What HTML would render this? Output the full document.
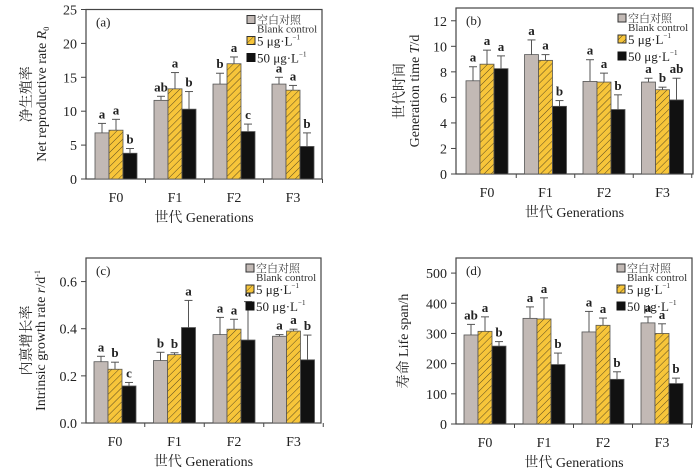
<!DOCTYPE html>
<html><head><meta charset="utf-8"><style>
body{margin:0;background:#fff}
svg{display:block;font-family:"Liberation Serif","Noto Serif CJK SC",serif}
</style></head><body>
<svg id="fig" width="700" height="468" viewBox="0 0 700 468" xmlns="http://www.w3.org/2000/svg">
<defs>
<pattern id="hatch" patternUnits="userSpaceOnUse" width="5" height="5" patternTransform="rotate(-45)">
<rect width="5" height="5" fill="#f7c53a"/><line x1="0" y1="0" x2="5" y2="0" stroke="#5a4a20" stroke-width="1"/>
</pattern>
</defs>
</svg>
<script>
const cats=["F0","F1","F2","F3"];
const aGray=[6.8,11.6,14,14], aYel=[7.2,13.3,17,13.1], aBlk=[3.8,10.3,7,4.8];
const aGrayE=[8.2,12.2,15.6,15], aYelE=[8.8,15.7,18,13.8], aBlkE=[4.5,12.9,8.1,6.8];
const aLet=[["a","a","b"],["ab","a","b"],["b","a","c"],["a","a","b"]];
const aTicks=[0,5,10,15,20,25];
const bGray=[7.3,9.35,7.25,7.2], bYel=[8.6,8.9,7.2,6.6], bBlk=[8.25,5.3,5.05,5.8];
const bGrayE=[8.4,10.5,8.95,7.5], bYelE=[9.7,9.35,7.9,6.8], bBlkE=[9.25,5.75,6.2,7.5];
const bLet=[["a","a","a"],["a","a","b"],["a","a","b"],["a","b","ab"]];
const bTicks=[0,2,4,6,8,10,12];
const cGray=[0.26,0.265,0.375,0.368], cYel=[0.228,0.29,0.398,0.39], cBlk=[0.157,0.405,0.352,0.268];
const cGrayE=[0.283,0.3,0.448,0.375], cYelE=[0.258,0.298,0.44,0.398], cBlkE=[0.172,0.52,0.515,0.373];
const cLet=[["a","b","c"],["b","b","a"],["a","a","a"],["a","a","b"]];
const cTicks=["0.0","0.2","0.4","0.6"];
const dGray=[295,350,305,335], dYel=[307,348,327,300], dBlk=[258,197,148,134];
const dGrayE=[330,388,373,355], dYelE=[355,418,351,332], dBlkE=[273,235,173,152];
const dLet=[["ab","a","b"],["a","a","b"],["a","a","b"],["a","a","b"]];
const dTicks=[0,100,200,300,400,500];

const NS="http://www.w3.org/2000/svg", svg=document.getElementById('fig');
function el(t,a,p){const e=document.createElementNS(NS,t);for(const k in a)e.setAttribute(k,a[k]);(p||svg).appendChild(e);return e;}
function txt(s,a,p){const e=el('text',a,p);e.textContent=s;return e;}

function panel(o){
  const g=el('g',{});
  
  
  const y=v=>o.y0-(v/o.max)*(o.y0-o.top);
  el('rect',{x:o.left,y:o.top,width:o.right-o.left,height:o.y0-o.top,fill:'none',stroke:'#444','stroke-width':1.2},g);
  o.ticks.forEach(t=>{const v=parseFloat(t);const yy=y(v);
    el('line',{x1:o.left-5,x2:o.left,y1:yy,y2:yy,stroke:'#444'},g);
    const tl=txt(String(t),{x:o.left-9,y:yy+5,'text-anchor':'end','font-size':14,fill:'#222'},g);
    
  });
  const series=[[o.gray,o.grayE,'#c2b9b5'],[o.yel,o.yelE,'url(#hatch)'],[o.blk,o.blkE,'#111']];
  const bw=14;
  cats.forEach((c,i)=>{
    const cx=o.cx0+i*o.dx;
    el('line',{x1:cx+o.dx/2,x2:cx+o.dx/2,y1:o.y0,y2:o.y0+4,stroke:'#444'},g);
    const xl=txt(c,{x:cx,y:o.y0+23,'text-anchor':'middle','font-size':14,fill:'#222'},g);
    
    series.forEach((s,j)=>{
      const x=cx-1.5*bw+j*bw, v=s[0][i], e=s[1][i];
      const r=el('rect',{x:x,y:y(v),width:bw,height:o.y0-y(v),fill:s[2],stroke:'#555','stroke-width':0.8},g);
      
      
      const m=x+bw/2;
      el('line',{x1:m,x2:m,y1:y(v),y2:y(e),stroke:'#555','stroke-width':1},g);
      el('line',{x1:m-4,x2:m+4,y1:y(e),y2:y(e),stroke:'#555','stroke-width':1},g);
      const lt=txt(o.let[i][j],{x:m,y:y(e)-5,'text-anchor':'middle','font-size':13,'font-weight':'bold',fill:'#222'},g);
      
    });
  });
  const pl=txt('('+o.id+')',{x:o.left+10,y:o.top+17,'font-size':13,fill:'#222'},g);
  
  const lx=o.right-75, ly=o.top+6;
  const lg=el('g',{},g);
  
  
  el('rect',{x:lx,y:ly,width:8,height:8,fill:'#c2b9b5',stroke:'#333'},lg);
  txt('空白对照',{x:lx+10,y:ly+8,'font-size':11,fill:'#444'},lg);
  txt('Blank control',{x:lx+10,y:ly+17,'font-size':11,fill:'#333'},lg);
  el('rect',{x:lx,y:ly+21,width:8,height:8,fill:'url(#hatch)',stroke:'#333'},lg);
  const t1=txt('5 μg·L',{x:lx+10,y:ly+30,'font-size':13,fill:'#222'},lg);
  const s1=el('tspan',{dy:-6,'font-size':7},t1);s1.textContent='−1';
  el('rect',{x:lx,y:ly+38,width:8,height:8,fill:'#111',stroke:'#111'},lg);
  const t2=txt('50 μg·L',{x:lx+10,y:ly+47,'font-size':13,fill:'#222'},lg);
  const s2=el('tspan',{dy:-6,'font-size':7},t2);s2.textContent='−1';
  const xt=txt('世代 Generations',{x:(o.left+o.right)/2,y:o.y0+43,'text-anchor':'middle','font-size':14,fill:'#222'},g);
  
  const yc=(o.top+o.y0)/2;
  o.ytitle.forEach((l,k)=>{
    const tt=txt('',{x:0,y:0,'text-anchor':'middle','font-size':14,fill:'#222',transform:`translate(${l[1]},${yc}) rotate(-90)`},g);
    tt.innerHTML=l[0];
    
  });
}
panel({id:'a',left:86,right:322,top:9.5,y0:179,max:25,cx0:116,dx:59,ticks:aTicks,gray:aGray,yel:aYel,blk:aBlk,grayE:aGrayE,yelE:aYelE,blkE:aBlkE,let:aLet,
  ytitle:[['净生殖率',31],['Net reproductive rate <tspan font-style="italic">R</tspan><tspan font-size="8" dy="3">0</tspan>',46]]});
panel({id:'b',left:456,right:693,top:8,y0:174,max:13,cx0:487,dx:58.5,ticks:bTicks,gray:bGray,yel:bYel,blk:bBlk,grayE:bGrayE,yelE:bYelE,blkE:bBlkE,let:bLet,
  ytitle:[['世代时间',404],['Generation time <tspan font-style="italic">T</tspan>/d',419]]});
panel({id:'c',left:86,right:321,top:258,y0:423,max:0.7,cx0:115,dx:59.5,ticks:cTicks,gray:cGray,yel:cYel,blk:cBlk,grayE:cGrayE,yelE:cYelE,blkE:cBlkE,let:cLet,
  ytitle:[['内禀增长率',31],['Intrinsic growth rate <tspan font-style="italic">r</tspan>/d<tspan font-size="8" dy="-5">-1</tspan>',45]]});
panel({id:'d',left:456,right:692,top:258,y0:424,max:550,cx0:485,dx:59,ticks:dTicks,gray:dGray,yel:dYel,blk:dBlk,grayE:dGrayE,yelE:dYelE,blkE:dBlkE,let:dLet,
  ytitle:[['寿命 Life span/h',408]]});
</script>
</body></html>
